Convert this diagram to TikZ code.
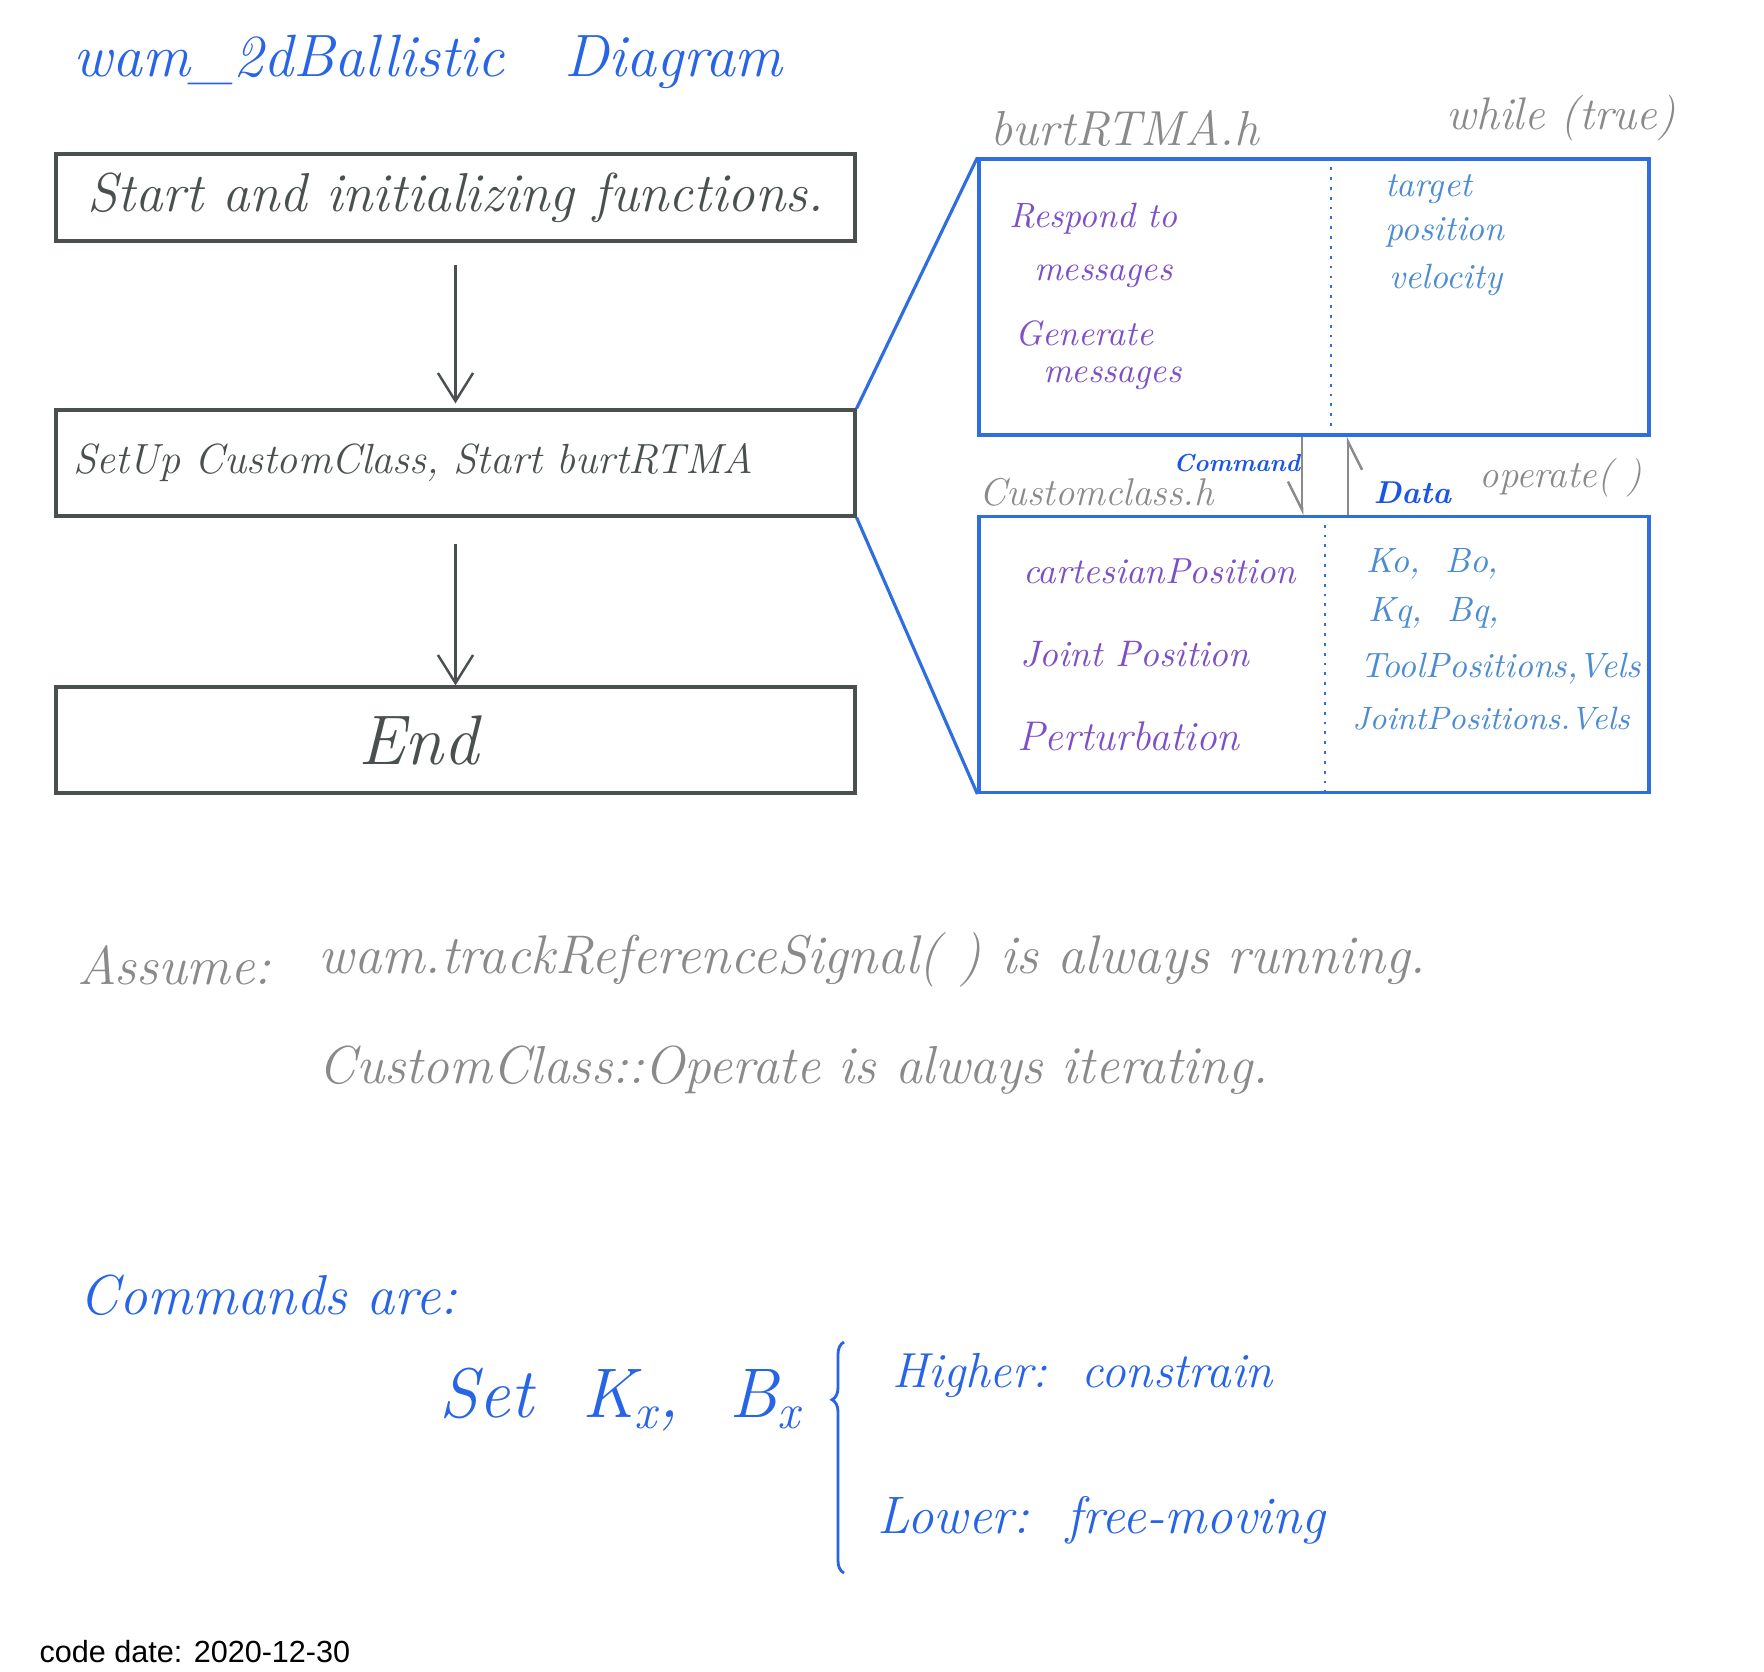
\documentclass[tikz,border=0pt]{standalone}
\usepackage{fontspec}
\newfontfamily\datefont{Liberation Sans}
\usetikzlibrary{arrows.meta,positioning,decorations.pathreplacing,calc}
\definecolor{boxgray}{RGB}{74,80,80}
\definecolor{notegray}{RGB}{138,138,138}
\definecolor{linkblue}{RGB}{47,110,225}
\definecolor{titleblue}{RGB}{40,100,230}
\definecolor{tagblue}{RGB}{25,85,230}
\definecolor{msgpurple}{RGB}{125,80,200}
\definecolor{fieldblue}{RGB}{75,140,210}
\newcommand{\penfont}[1]{\fontsize{#1}{#1}\selectfont\itshape}
\tikzset{
    flowbox/.style={rectangle, draw=boxgray, line width=0.9pt, minimum width=7.99cm, inner sep=0pt, text=boxgray},
    classbox/.style={rectangle, draw=linkblue, line width=0.9pt, minimum width=6.70cm, minimum height=2.76cm},
    flowline/.style={draw=boxgray, line width=0.7pt, -{Straight Barb[length=8pt, width=10pt]}},
    datalink/.style={draw=notegray, line width=0.7pt, -{Straight Barb[harpoon, swap, length=8pt, width=8pt]}},
    zoomline/.style={draw=linkblue, line width=0.9pt},
    divider/.style={draw=linkblue, line width=0.8pt, dotted},
    hand/.style={inner sep=0pt, anchor=west},
    msg/.style={hand, text=msgpurple, font=\penfont{10}},
    field/.style={hand, text=fieldblue, font=\penfont{10}},
    bracket/.style={draw=titleblue, line width=0.8pt, decorate, decoration={brace, amplitude=0.12cm, aspect=0.75}}
}

\begin{document}
\begin{tikzpicture}
    \useasboundingbox (0,0) rectangle (17.64,-16.72);

    % Title
    \node [hand, text=titleblue, font=\penfont{17}] (title) at (0.73,-0.62) {wam\_2dBallistic\quad Diagram};

    % Main flow
    \node [flowbox, minimum height=0.87cm, font=\penfont{15.6}] (start) at (4.555,-1.975) {Start and initializing functions.};
    \node [flowbox, minimum height=1.06cm, text width=7.65cm, align=left, font=\penfont{12}] (setup) at (4.555,-4.63) {SetUp CustomClass, Start burtRTMA};
    \node [flowbox, minimum height=1.06cm, font=\penfont{20}] (end) at (4.555,-7.40) {End\hspace*{0.74cm}};
    \draw [flowline, shorten <=0.22cm, shorten >=0.05cm] (start) -- (setup);
    \draw [flowline, shorten <=0.26cm] (setup) -- (end);

    % Zoomed classes
    \node [classbox] (burt) at (13.14,-2.97) {};
    \node [classbox] (cc) at (13.14,-6.545) {};
    \path [zoomline] (setup.north east) -- (burt.north west);
    \path [zoomline] (setup.south east) -- (cc.south west);
    \draw [divider] ([xshift=0.17cm]burt.north) -- ([xshift=0.17cm]burt.south);
    \draw [divider] ([xshift=0.11cm]cc.north) -- ([xshift=0.11cm]cc.south);
    \draw [datalink] ([xshift=-0.12cm]burt.south) -- ([xshift=-0.12cm]cc.north);
    \draw [datalink] ([xshift=0.34cm]cc.north) -- ([xshift=0.34cm]burt.south);

    % Class labels
    \node [hand, text=notegray, font=\penfont{14}] (burtname) at (9.90,-1.28) {burtRTMA.h};
    \node [hand, text=notegray, font=\penfont{13}] (loop) at (14.46,-1.18) {while (true)};
    \node [hand, text=notegray, font=\penfont{11}] (ccname) at (9.79,-4.92) {Customclass.h};
    \node [hand, text=notegray, font=\penfont{11}] (operate) at (14.79,-4.78) {operate( )};
    \node [hand, text=tagblue, font=\bfseries\penfont{7}] (command) at (11.73,-4.63) {Command};
    \node [hand, text=tagblue, font=\bfseries\penfont{9}] (data) at (13.73,-4.93) {Data};

    % burtRTMA contents
    \node [msg] (respond) at ([shift={(0.31,-0.61)}]burt.north west) {Respond to};
    \node [msg] (respondmsg) at ([shift={(0.56,-1.19)}]burt.north west) {messages};
    \node [msg] (generate) at ([shift={(0.37,-1.76)}]burt.north west) {Generate};
    \node [msg] (generatemsg) at ([shift={(0.65,-2.21)}]burt.north west) {messages};
    \node [field] (target) at ([shift={(4.07,-0.32)}]burt.north west) {target};
    \node [field] (position) at ([shift={(4.07,-0.75)}]burt.north west) {position};
    \node [field] (velocity) at ([shift={(4.11,-1.22)}]burt.north west) {velocity};

    % CustomClass contents
    \node [msg, font=\penfont{10.3}] (cartpos) at ([shift={(0.45,-0.56)}]cc.north west) {cartesianPosition};
    \node [msg, font=\penfont{10.5}] (jointpos) at ([shift={(0.42,-1.39)}]cc.north west) {Joint Position};
    \node [msg, font=\penfont{11.8}] (perturb) at ([shift={(0.39,-2.21)}]cc.north west) {Perturbation};
    \node [field] (gainso) at ([shift={(3.88,-0.49)}]cc.north west) {Ko,\ \ Bo,};
    \node [field] (gainsq) at ([shift={(3.90,-0.98)}]cc.north west) {Kq,\ \ Bq,};
    \node [field] (toolpos) at ([shift={(3.82,-1.54)}]cc.north west) {ToolPositions,Vels};
    \node [field, font=\penfont{9.2}] (jointvel) at ([shift={(3.74,-2.04)}]cc.north west) {JointPositions.Vels};

    % Assumptions
    \node [hand, text=notegray, font=\penfont{15.5}] (assume) at (0.77,-9.65) {Assume:};
    \node [hand, text=notegray, font=\penfont{15.5}] (track) at (3.18,-9.60) {wam.trackReferenceSignal( ) is always running.};
    \node [hand, text=notegray, font=\penfont{15.2}] (iterate) at (3.18,-10.70) {CustomClass::Operate is always iterating.};

    % Commands
    \node [hand, text=titleblue, font=\penfont{16}] (cmds) at (0.79,-12.95) {Commands are:};
    \node [hand, text=titleblue, font=\penfont{20}] (setk) at (4.39,-14.00) {Set\ \ K\textsubscript{x},\ \ B\textsubscript{x}};
    \draw [bracket] (8.44,-15.73) -- (8.44,-13.42);
    \node [hand, text=titleblue, font=\penfont{14}] (higher) at (8.92,-13.75) {Higher:\ \ constrain};
    \node [hand, text=titleblue, font=\penfont{15}] (lower) at (8.77,-15.20) {Lower:\ \ free-moving};

    \node [hand, font=\datefont\fontsize{8.7}{10}\selectfont] (date) at (0.39,-16.52) {code date: 2020-12-30};
\end{tikzpicture}
\end{document}
